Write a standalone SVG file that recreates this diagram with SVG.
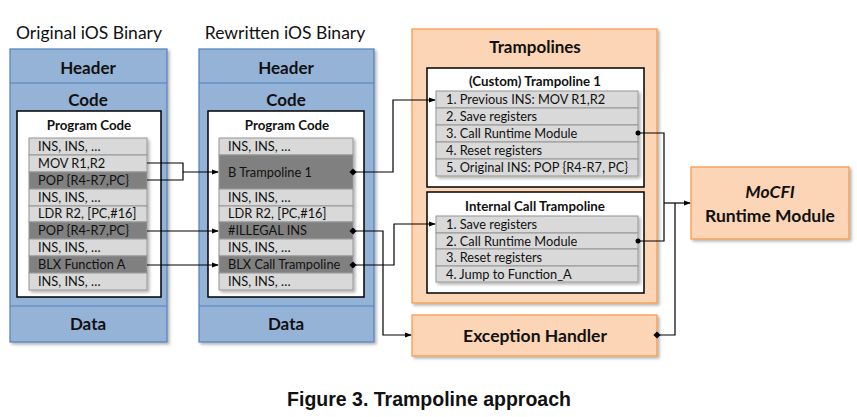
<svg xmlns="http://www.w3.org/2000/svg" width="857" height="417" viewBox="0 0 857 417">
<defs>
<filter id="sh" x="-10%" y="-10%" width="125%" height="125%"><feDropShadow dx="2" dy="2" stdDeviation="1.5" flood-color="#000" flood-opacity="0.3"/></filter>
<marker id="ar" viewBox="0 0 8 8" refX="7" refY="4" markerWidth="6" markerHeight="6" orient="auto"><path d="M0,1 L8,4 L0,7 z" fill="#000"/></marker>
<marker id="dot" viewBox="0 0 8 8" refX="4" refY="4" markerWidth="6" markerHeight="6"><path d="M4,0 L8,4 L4,8 L0,4 z" fill="#000"/></marker>
</defs>
<style>
.bin{fill:#95b3d7;stroke:#4f81bd;stroke-width:1.2}
.sep{stroke:#4f81bd;stroke-width:1.2}
.wb{fill:#fff;stroke:#000;stroke-width:1.5}
.lr{fill:#d9d9d9;stroke:#959595;stroke-width:1}
.dr{fill:#808080;stroke:#959595;stroke-width:1}
.or{fill:#fbd5b5;stroke:#f79646;stroke-width:1.2}
text{font-family:Lato,"Open Sans","Liberation Sans",sans-serif;fill:#111}
.t{font-size:12.8px}
.h{font-size:17px;font-weight:bold;text-anchor:middle}
.pc{font-size:13.3px;font-weight:bold;text-anchor:middle}
.ti{font-size:17.5px;text-anchor:middle}
.c{fill:none;stroke:#000;stroke-width:1.2}
</style>
<text class="ti" x="89" y="39">Original iOS Binary</text>
<text class="ti" x="285" y="39">Rewritten iOS Binary</text>
<g id="orig">
<rect class="bin" x="10" y="49" width="157" height="293" filter="url(#sh)"/>
<line class="sep" x1="10" y1="83" x2="167" y2="83"/>
<line class="sep" x1="10" y1="306" x2="167" y2="306"/>
<text class="h" x="88" y="74">Header</text>
<text class="h" x="88" y="106">Code</text>
<text class="h" x="88" y="330">Data</text>
<rect class="wb" x="17" y="111" width="144" height="186"/>
<text class="pc" x="89" y="130">Program Code</text>
<g filter="url(#sh)">
<rect class="lr" x="29" y="138" width="118" height="17"/>
<rect class="lr" x="29" y="155" width="118" height="17"/>
<rect class="dr" x="29" y="172" width="118" height="17"/>
<rect class="lr" x="29" y="189" width="118" height="17"/>
<rect class="lr" x="29" y="206" width="118" height="16"/>
<rect class="dr" x="29" y="222" width="118" height="17"/>
<rect class="lr" x="29" y="239" width="118" height="17"/>
<rect class="dr" x="29" y="256" width="118" height="17"/>
<rect class="lr" x="29" y="273" width="118" height="17"/>
</g>
<text class="t" x="38" y="151">INS, INS, …</text>
<text class="t" x="38" y="168">MOV R1,R2</text>
<text class="t" x="38" y="185">POP {R4-R7,PC}</text>
<text class="t" x="38" y="202">INS, INS, …</text>
<text class="t" x="38" y="218">LDR R2, [PC,#16]</text>
<text class="t" x="38" y="235">POP {R4-R7,PC}</text>
<text class="t" x="38" y="252">INS, INS, …</text>
<text class="t" x="38" y="269">BLX Function  A</text>
<text class="t" x="38" y="286">INS, INS, …</text>
</g>
<g id="rewritten">
<rect class="bin" x="199" y="49" width="175" height="293" filter="url(#sh)"/>
<line class="sep" x1="199" y1="83" x2="374" y2="83"/>
<line class="sep" x1="199" y1="306" x2="374" y2="306"/>
<text class="h" x="286" y="74">Header</text>
<text class="h" x="286" y="106">Code</text>
<text class="h" x="286" y="330">Data</text>
<rect class="wb" x="208" y="111" width="156" height="186"/>
<text class="pc" x="287" y="130">Program Code</text>
<g filter="url(#sh)">
<rect class="lr" x="219" y="138" width="134" height="17"/>
<rect class="dr" x="219" y="155" width="134" height="34"/>
<rect class="lr" x="219" y="189" width="134" height="17"/>
<rect class="lr" x="219" y="206" width="134" height="16"/>
<rect class="dr" x="219" y="222" width="134" height="17"/>
<rect class="lr" x="219" y="239" width="134" height="17"/>
<rect class="dr" x="219" y="256" width="134" height="17"/>
<rect class="lr" x="219" y="273" width="134" height="17"/>
</g>
<text class="t" x="228" y="151">INS, INS, …</text>
<text class="t" x="228" y="177">B Trampoline 1</text>
<text class="t" x="228" y="202">INS, INS, …</text>
<text class="t" x="228" y="218">LDR R2, [PC,#16]</text>
<text class="t" x="228" y="235">#ILLEGAL INS</text>
<text class="t" x="228" y="252">INS, INS, …</text>
<text class="t" x="228" y="269">BLX Call Trampoline</text>
<text class="t" x="228" y="286">INS, INS, …</text>
</g>
<g id="trampolines">
<rect class="or" x="412" y="29" width="245" height="274" filter="url(#sh)"/>
<text class="h" x="535" y="53">Trampolines</text>
</g>
<g id="trampoline1">
<rect class="wb" x="427" y="68" width="217" height="119"/>
<text class="pc" x="535" y="86">(Custom) Trampoline 1</text>
<g filter="url(#sh)">
<rect class="lr" x="436" y="91" width="202" height="17"/>
<rect class="lr" x="436" y="108" width="202" height="17"/>
<rect class="lr" x="436" y="125" width="202" height="17"/>
<rect class="lr" x="436" y="142" width="202" height="17"/>
<rect class="lr" x="436" y="159" width="202" height="17"/>
</g>
<text class="t" x="446" y="104">1. Previous INS: MOV R1,R2</text>
<text class="t" x="446" y="121">2. Save registers</text>
<text class="t" x="446" y="138">3. Call Runtime Module</text>
<text class="t" x="446" y="155">4. Reset registers</text>
<text class="t" x="446" y="172">5. Original INS: POP {R4-R7, PC}</text>
</g>
<g id="internal">
<rect class="wb" x="427" y="192" width="217" height="101"/>
<text class="pc" x="535" y="211">Internal Call Trampoline</text>
<g filter="url(#sh)">
<rect class="lr" x="436" y="216" width="202" height="17"/>
<rect class="lr" x="436" y="233" width="202" height="16"/>
<rect class="lr" x="436" y="249" width="202" height="17"/>
<rect class="lr" x="436" y="266" width="202" height="16"/>
</g>
<text class="t" x="446" y="229">1. Save registers</text>
<text class="t" x="446" y="246">2. Call Runtime Module</text>
<text class="t" x="446" y="262">3. Reset registers</text>
<text class="t" x="446" y="279">4. Jump to Function_A</text>
</g>
<g id="exception">
<rect class="or" x="412" y="315" width="245" height="41" filter="url(#sh)"/>
<text class="h" x="535" y="342" style="font-size:17.5px">Exception Handler</text>
</g>
<g id="mocfi">
<rect class="or" x="691" y="167" width="158" height="72" filter="url(#sh)"/>
<text class="h" x="770" y="198" style="font-style:italic;font-size:17.5px">MoCFI</text>
<text class="h" x="770" y="222" style="font-size:17.5px">Runtime Module</text>
</g>
<g id="connectors">
<polyline class="c" points="147,163 183,163 183,180 147,180"/>
<line class="c" x1="183" y1="172" x2="218" y2="172" marker-end="url(#ar)"/>
<line class="c" x1="147" y1="231" x2="218" y2="231" marker-end="url(#ar)"/>
<line class="c" x1="147" y1="265" x2="218" y2="265" stroke="#333" marker-end="url(#ar)"/>
<polyline class="c" points="353,172 393,172 393,100 435,100" marker-start="url(#dot)" marker-end="url(#ar)"/>
<polyline class="c" points="353,231 383,231 383,335 411,335" marker-start="url(#dot)" marker-end="url(#ar)"/>
<polyline class="c" points="353,265 394,265 394,224 435,224" marker-start="url(#dot)" marker-end="url(#ar)"/>
<polyline class="c" points="638,133 664,133 664,241 638,241"/>
<circle cx="638" cy="133" r="2.5" fill="#000"/>
<circle cx="638" cy="241" r="2.5" fill="#000"/>
<line class="c" x1="664" y1="203" x2="690" y2="203" marker-end="url(#ar)"/>
<polyline class="c" points="657,335 675,335 675,203" stroke="#555" marker-start="url(#dot)"/>
</g>
<text x="429" y="406" style="font-family:'Liberation Sans',Arial,sans-serif;font-size:19.5px;font-weight:bold;text-anchor:middle">Figure 3. Trampoline approach</text>
</svg>
